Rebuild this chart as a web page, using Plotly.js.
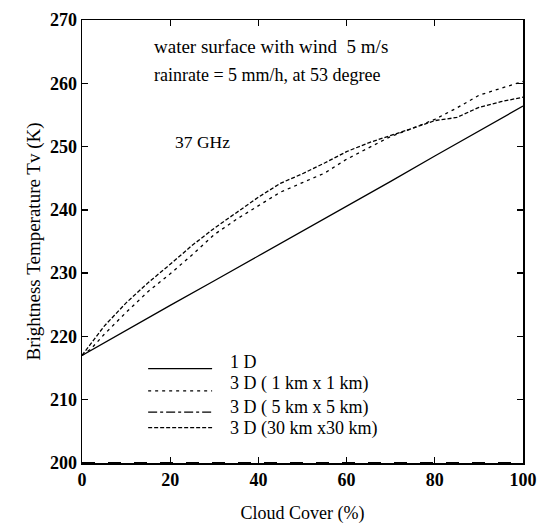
<!DOCTYPE html>
<html>
<head>
<meta charset="utf-8">
<script src="https://cdn.plot.ly/plotly-3.0.1.min.js"></script>
<style>html,body{margin:0;padding:0;background:#fff;}#chart{width:541px;height:524px;}</style>
</head>
<body>
<div id="chart"></div>
<script>
// Cloud cover (%)
var cover1D = [0, 10, 20, 30, 40, 50, 60, 70, 80, 90, 100];
var tb1D = [217, 221, 224.9, 228.8, 232.7, 236.6, 240.6, 244.5, 248.5, 252.4, 256.4];

var cover3D = [0, 2, 5, 10, 15, 20, 25, 30, 35, 40, 45, 50, 55, 60, 65, 70, 75, 80, 85, 90, 95, 100];
// 3D (1 km x 1 km)
var tb3D_1km = [217, 218, 220.3, 223.8, 227.1, 229.9, 232.9, 236.1, 238.5, 240.7, 242.8, 244.3, 245.8, 248.0, 249.8, 251.6, 252.9, 254.3, 256.1, 258.1, 259.2, 260.3];
// 3D (30 km x 30 km)
var tb3D_30km = [217, 218.8, 221.6, 225.3, 228.5, 231.4, 234.4, 237.1, 239.6, 242.0, 244.2, 245.7, 247.4, 249.2, 250.6, 251.7, 252.9, 254.1, 254.6, 256.2, 257.1, 257.8];
// 3D (5 km x 5 km) — drawn along the bottom edge
var cover5km = [0, 100];
var tb3D_5km = [200, 200];

var legendLabels = ['1 D', '3 D ( 1 km x 1 km)', '3 D ( 5 km x 5 km)', '3 D (30 km x30 km)'];
var noteLines = ['water surface with wind&nbsp;&nbsp;5 m/s', 'rainrate = 5 mm/h, at 53 degree', '37 GHz'];

var FONT = 'Liberation Serif, Times New Roman, serif';
var styles = [
  {dash: 'solid', width: 1.3},
  {dash: '3px,4px', width: 1.3},
  {dash: 'dashdot', width: 1.3},
  {dash: '4px,2px', width: 1.3}
];

var traces = [
  {x: cover1D, y: tb1D, mode: 'lines', line: {color: '#000', width: styles[0].width, dash: styles[0].dash}, name: legendLabels[0]},
  {x: cover3D, y: tb3D_1km, mode: 'lines', line: {color: '#000', width: styles[1].width, dash: styles[1].dash}, name: legendLabels[1]},
  {x: cover5km, y: tb3D_5km, mode: 'lines', line: {color: '#000', width: 2, dash: '13px,13px'}, name: legendLabels[2], cliponaxis: false},
  {x: cover3D, y: tb3D_30km, mode: 'lines', line: {color: '#000', width: styles[3].width, dash: styles[3].dash}, name: legendLabels[3]}
];

// custom legend (line samples + labels) in paper coordinates
var legX0 = 0.150, legX1 = 0.295, legTextX = 0.331;
var legTextY = [0.2275, 0.180, 0.1255, 0.079];
var legLineY = [0.213, 0.163, 0.115, 0.080];
var shapes = [];
var annotations = [];
for (var i = 0; i < legendLabels.length; i++) {
  shapes.push({type: 'line', xref: 'paper', yref: 'paper', x0: legX0, x1: legX1, y0: legLineY[i], y1: legLineY[i],
    line: {color: '#000', width: 1.3, dash: styles[i].dash}});
  annotations.push({xref: 'paper', yref: 'paper', x: legTextX, y: legTextY[i], xanchor: 'left', yanchor: 'middle',
    text: legendLabels[i], showarrow: false, font: {family: FONT, size: 18, color: '#000'}});
}
var noteX = [0.158, 0.158, 0.207];
var noteY = [0.940, 0.876, 0.7255];
var noteSize = [19, 18, 17.5];
for (var j = 0; j < noteLines.length; j++) {
  annotations.push({xref: 'paper', yref: 'paper', x: noteX[j], y: noteY[j], xanchor: 'left', yanchor: 'middle',
    text: noteLines[j], showarrow: false, font: {family: FONT, size: noteSize[j], color: '#000'}});
}

var layout = {
  width: 541, height: 524,
  margin: {l: 82, r: 18, t: 20, b: 61},
  paper_bgcolor: '#fff', plot_bgcolor: '#fff',
  showlegend: false,
  font: {family: FONT, size: 18, color: '#000'},
  xaxis: {
    range: [0, 100], tickvals: [0, 20, 40, 60, 80, 100], ticktext: ['0', '20', '40', '60', '80', '100'],
    ticks: 'inside', ticklen: 6, tickwidth: 1.3, tickcolor: '#000',
    showline: true, linecolor: '#000', linewidth: 1.5, mirror: 'ticks',
    showgrid: false, zeroline: false,
    tickfont: {family: FONT, size: 18, color: '#000', weight: 'bold'},
    title: {text: 'Cloud Cover (%)', font: {family: FONT, size: 18, color: '#000'}, standoff: 20}
  },
  yaxis: {
    range: [200, 270], tickvals: [200, 210, 220, 230, 240, 250, 260, 270],
    ticks: 'inside', ticklen: 6, tickwidth: 1.3, tickcolor: '#000',
    showline: true, linecolor: '#000', linewidth: 1.5, mirror: 'ticks',
    showgrid: false, zeroline: false,
    tickfont: {family: FONT, size: 18, color: '#000', weight: 'bold'},
    title: {text: 'Brightness Temperature Tv (K)', font: {family: FONT, size: 19, color: '#000'}, standoff: 4}
  },
  shapes: shapes,
  annotations: annotations
};

Plotly.newPlot('chart', traces, layout, {displayModeBar: false, staticPlot: true});
</script>
</body>
</html>
